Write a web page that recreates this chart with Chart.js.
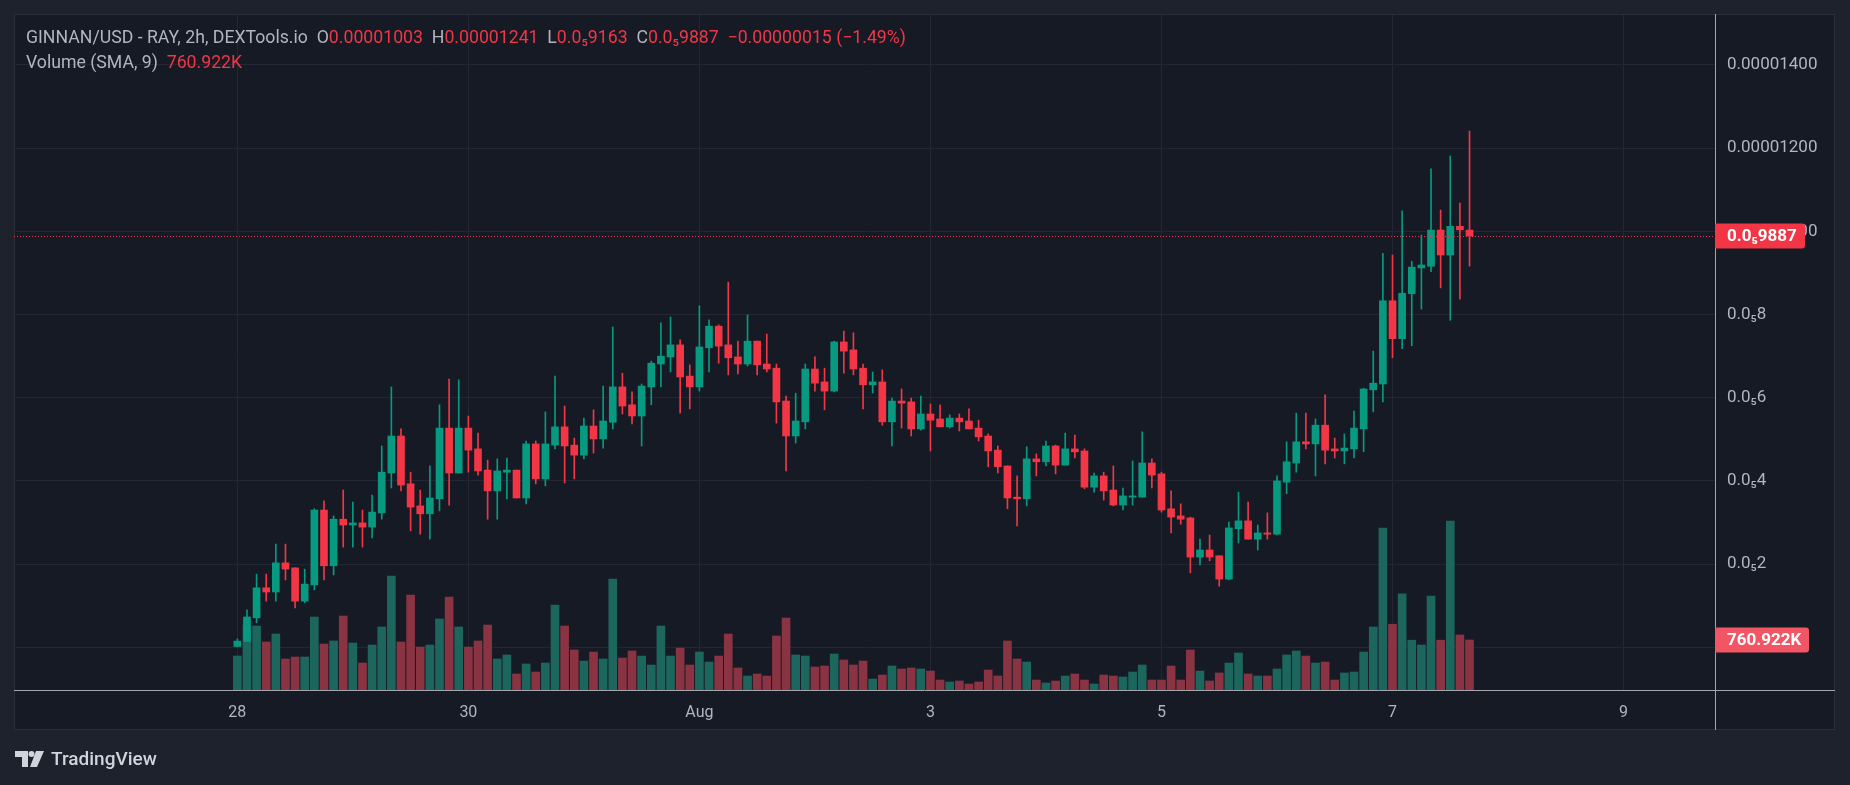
<!DOCTYPE html>
<html>
<head>
<meta charset="utf-8">
<script src="https://cdn.jsdelivr.net/npm/chart.js@4.4.1/dist/chart.umd.min.js"></script>
<style>
    html, body { margin: 0; padding: 0; background: #1e222d; overflow: hidden; }
    #wrap { position: relative; width: 1850px; height: 785px; }
    canvas { display: block; }
    .legend { position: absolute; left: 26px; font: 17.7px Roboto, sans-serif; color: #b2b5be; white-space: pre; }
    .legend .v { color: #f23645; }
    #brand { position: absolute; left: 15px; top: 747px; display: flex; align-items: center; color: #d1d4dc; font: 500 19px Roboto, sans-serif; }
    #brand svg { margin-right: 7px; }
</style>
</head>
<body>
<div id="wrap">
    <canvas id="graph" width="1850" height="785"></canvas>
    <div class="legend" id="line1" style="top:27px"></div>
    <div class="legend" id="line2" style="top:52px"></div>
    <div id="brand">
        <svg width="29" height="16" viewBox="0 0 29 16">
            <path d="M0 0h13v16h-6v-10h-7z" fill="#d1d4dc"/>
            <circle cx="16.5" cy="3" r="3" fill="#d1d4dc"/>
            <path d="M21 0h8l-7 16h-7z" fill="#d1d4dc"/>
        </svg>
        <span>TradingView</span>
    </div>
</div>
<script>
// GINNAN/USD 2h candles, prices in millionths of a dollar (1 = 0.000001)
const opens = [
    0.02, 0.14, 0.71, 1.43, 1.33, 2.03, 1.91, 1.11, 1.50, 3.30,
    1.96, 3.08, 2.94, 2.99, 2.89, 3.23, 4.19, 5.08, 3.93, 3.40,
    3.21, 3.57, 5.27, 4.19, 5.27, 4.77, 4.26, 3.76, 4.21, 4.26,
    3.59, 4.89, 4.05, 4.86, 5.30, 4.86, 4.62, 5.32, 5.01, 5.41,
    6.26, 5.83, 5.56, 6.26, 6.81, 6.98, 7.27, 6.52, 6.26, 7.20,
    7.72, 7.27, 6.98, 6.81, 7.36, 6.81, 6.71, 5.92, 5.08, 5.42,
    6.69, 6.38, 6.16, 7.34, 7.15, 6.71, 6.31, 6.38, 5.42, 5.92,
    5.90, 5.25, 5.61, 5.49, 5.30, 5.51, 5.44, 5.27, 5.08, 4.74,
    4.36, 3.61, 3.57, 4.53, 4.46, 4.84, 4.38, 4.77, 4.72, 3.85,
    4.12, 3.78, 3.42, 3.61, 3.61, 4.43, 4.17, 3.33, 3.16, 3.11,
    2.17, 2.34, 2.20, 1.64, 2.85, 3.04, 2.60, 2.75, 2.72, 3.97,
    4.43, 4.94, 4.89, 5.34, 4.77, 4.72, 4.77, 5.25, 6.19, 6.33,
    8.33, 7.42, 8.50, 9.12, 9.16, 10.03, 9.43, 10.12, 10.03
];
const highs = [
    0.20, 0.90, 1.76, 1.76, 2.48, 2.48, 1.91, 1.88, 3.33, 3.52,
    3.16, 3.78, 3.49, 3.30, 3.66, 4.84, 6.26, 5.25, 4.21, 3.78,
    4.36, 5.83, 6.45, 6.43, 5.56, 5.15, 4.50, 4.53, 4.55, 4.26,
    4.96, 4.96, 5.66, 6.52, 5.80, 5.03, 5.51, 5.71, 6.28, 7.70,
    6.59, 6.14, 6.33, 6.88, 7.80, 7.94, 7.39, 6.79, 8.21, 7.87,
    7.75, 8.78, 7.36, 7.99, 7.36, 7.53, 6.81, 6.04, 6.11, 6.81,
    6.98, 6.71, 7.36, 7.60, 7.56, 6.81, 6.62, 6.67, 5.99, 6.21,
    5.99, 6.04, 5.85, 5.83, 5.59, 5.61, 5.73, 5.46, 5.13, 4.84,
    4.36, 4.12, 4.82, 4.65, 4.96, 4.86, 5.15, 5.10, 4.77, 4.19,
    4.21, 4.36, 3.83, 4.48, 5.18, 4.53, 4.21, 3.76, 3.45, 3.13,
    2.60, 2.70, 2.20, 3.01, 3.73, 3.49, 2.94, 3.23, 4.12, 4.94,
    5.63, 5.63, 5.49, 6.07, 5.03, 5.13, 5.68, 6.23, 7.12, 9.47,
    9.43, 10.49, 9.28, 9.91, 11.50, 10.51, 11.81, 10.68, 12.41
];
const lows = [
    0.00, 0.14, 0.59, 1.11, 1.11, 1.62, 0.95, 1.07, 1.38, 1.62,
    1.74, 2.41, 2.41, 2.41, 2.63, 3.08, 3.83, 3.76, 2.80, 2.72,
    2.60, 3.28, 3.42, 4.19, 4.21, 4.14, 3.08, 3.08, 3.57, 3.59,
    3.45, 3.93, 3.88, 4.77, 3.95, 4.05, 4.53, 4.67, 4.79, 5.25,
    5.61, 5.37, 4.84, 5.83, 6.26, 6.62, 5.63, 5.73, 6.16, 6.62,
    6.83, 6.55, 6.57, 6.76, 6.55, 6.62, 5.39, 4.24, 4.91, 5.25,
    6.16, 5.71, 6.14, 6.59, 6.55, 5.73, 6.11, 5.34, 4.84, 5.27,
    5.08, 5.22, 4.72, 5.30, 5.27, 5.20, 5.25, 4.96, 4.34, 4.19,
    3.33, 2.92, 3.40, 4.12, 4.36, 4.17, 4.38, 4.55, 3.81, 3.73,
    3.54, 3.40, 3.30, 3.42, 3.61, 3.83, 3.25, 2.75, 2.96, 1.79,
    1.98, 2.08, 1.47, 1.62, 2.51, 2.60, 2.34, 2.60, 2.70, 3.69,
    4.21, 4.77, 4.12, 4.41, 4.55, 4.41, 4.55, 4.70, 5.66, 5.90,
    6.96, 7.18, 7.25, 8.13, 9.03, 8.64, 7.86, 8.37, 9.163
];
const closes = [
    0.15, 0.73, 1.43, 1.33, 2.03, 1.88, 1.11, 1.52, 3.30, 1.96,
    3.08, 2.94, 2.99, 2.89, 3.25, 4.21, 5.08, 3.90, 3.37, 3.21,
    3.59, 5.27, 4.19, 5.27, 4.74, 4.24, 3.76, 4.24, 4.26, 3.59,
    4.89, 4.05, 4.89, 5.30, 4.84, 4.62, 5.32, 5.01, 5.44, 6.26,
    5.80, 5.56, 6.28, 6.83, 7.00, 7.27, 6.50, 6.26, 7.22, 7.72,
    7.24, 6.96, 6.81, 7.36, 6.79, 6.69, 5.90, 5.08, 5.44, 6.69,
    6.35, 6.16, 7.34, 7.12, 6.69, 6.31, 6.38, 5.42, 5.92, 5.87,
    5.25, 5.61, 5.46, 5.30, 5.51, 5.42, 5.25, 5.06, 4.72, 4.34,
    3.59, 3.57, 4.53, 4.46, 4.84, 4.38, 4.77, 4.70, 3.85, 4.12,
    3.76, 3.42, 3.64, 3.64, 4.43, 4.14, 3.30, 3.13, 3.08, 2.17,
    2.34, 2.17, 1.64, 2.87, 3.04, 2.60, 2.75, 2.72, 4.00, 4.46,
    4.94, 4.89, 5.34, 4.74, 4.72, 4.79, 5.27, 6.21, 6.35, 8.33,
    7.42, 8.51, 9.14, 9.19, 10.03, 9.43, 10.12, 10.037, 9.887
];
// volume per candle, thousands
const volumes = [
    517, 989, 974, 731, 852, 472, 502, 502, 1111, 700,
    746, 1126, 715, 411, 685, 959, 1735, 731, 1446, 654,
    685, 1081, 1415, 959, 654, 746, 989, 472, 533, 244,
    396, 274, 411, 1294, 974, 609, 441, 578, 472, 1689,
    487, 594, 517, 380, 974, 517, 639, 380, 578, 426,
    517, 852, 335, 213, 244, 213, 822, 1096, 533, 517,
    350, 365, 548, 457, 380, 441, 167, 228, 365, 320,
    335, 320, 289, 152, 122, 137, 91, 122, 304, 213,
    746, 472, 426, 152, 107, 137, 213, 244, 152, 91,
    228, 213, 198, 274, 380, 152, 152, 365, 152, 609,
    289, 137, 259, 411, 563, 244, 213, 213, 320, 533,
    594, 517, 411, 426, 152, 259, 274, 578, 959, 2466,
    1001, 1462, 758, 685, 1428, 758, 2571, 838, 760.922
];
// time axis: candle index (2h each, 0 = Jul 28 00:00) and its label
const dayTicks = [0, 24, 48, 72, 96, 120, 144];
const dayLabels = ['28', '30', 'Aug', '3', '5', '7', '9'];
const priceTicks = [0, 2, 4, 6, 8, 10, 12, 14];

const UP = '#089981', DOWN = '#f23645';
const VOL_UP = '#1d665e', VOL_DOWN = '#893343';

function fmtPrice(v) {
    if (v === 0) return '0.0000';
    if (v >= 10) return (v / 1e6).toFixed(8);
    return '0.0\u2085' + String(v).replace('.', '');
}
function fmtVol(v) {
    return v.toFixed(3) + 'K';
}

const n = closes.length;
const isUp = closes.map((c, i) => c >= opens[i]);
const lastClose = closes[n - 1];
const lastVol = volumes[n - 1];

// legend texts
const diff = lastClose - closes[n - 2];
const pct = diff / closes[n - 2] * 100;
const sign = diff < 0 ? '\u2212' : '+';
document.getElementById('line1').innerHTML =
    'GINNAN/USD - RAY, 2h, DEXTools.io  O<span class="v">' + fmtPrice(opens[n - 1]) +
    '</span>  H<span class="v">' + fmtPrice(highs[n - 1]) +
    '</span>  L<span class="v">' + fmtPrice(lows[n - 1]) +
    '</span>  C<span class="v">' + fmtPrice(lastClose) +
    '</span>  <span class="v">' + sign + (Math.abs(diff) / 1e6).toFixed(8) +
    ' (' + sign + Math.abs(pct).toFixed(2) + '%)</span>';
document.getElementById('line2').innerHTML =
    'Volume (SMA, 9)  <span class="v">' + fmtVol(lastVol) + '</span>';

// background, panel frame, price line and axis labels
const tvPlugin = {
    id: 'tvFrame',
    beforeDraw(chart) {
        const c = chart.ctx;
        c.save();
        c.fillStyle = '#1e222d';
        c.fillRect(0, 0, chart.width, chart.height);
        c.fillStyle = '#161a25';
        c.fillRect(14, 14, 1821, 716);
        c.strokeStyle = '#2a2e39';
        c.lineWidth = 1;
        c.strokeRect(14.5, 14.5, 1820, 715);
        c.restore();
    },
    afterDatasetsDraw(chart) {
        const c = chart.ctx, a = chart.chartArea;
        const y = Math.round(chart.scales.y.getPixelForValue(lastClose)) + 0.5;
        c.save();
        c.strokeStyle = DOWN;
        c.setLineDash([1, 2]);
        c.beginPath();
        c.moveTo(a.left, y);
        c.lineTo(a.right, y);
        c.stroke();
        c.restore();
    },
    afterDraw(chart) {
        const c = chart.ctx, a = chart.chartArea;
        c.save();
        c.strokeStyle = '#a3a6af';
        c.lineWidth = 1;
        c.beginPath();
        c.moveTo(a.right + 0.5, 14);
        c.lineTo(a.right + 0.5, 730);
        c.moveTo(14, a.bottom + 0.5);
        c.lineTo(1835, a.bottom + 0.5);
        c.stroke();

        function tag(yc, w, color, text) {
            const h = 25;
            c.fillStyle = color;
            c.beginPath();
            c.roundRect(a.right, yc - h / 2, w, h, [0, 3, 3, 0]);
            c.fill();
            c.fillStyle = '#ffffff';
            c.font = 'bold 17px Roboto';
            c.textBaseline = 'middle';
            c.textAlign = 'left';
            c.fillText(text, a.right + 12, yc + 1);
        }
        tag(chart.scales.y.getPixelForValue(lastClose), 90, DOWN, fmtPrice(lastClose));
        tag(chart.scales.yv.getPixelForValue(lastVol), 94, '#f25563', fmtVol(lastVol));
        c.restore();
    }
};

Chart.defaults.font.family = 'Roboto';
Chart.defaults.color = '#b2b5be';

const ctx = document.getElementById('graph').getContext('2d');
const myChart = new Chart(ctx, {
    type: 'bar',
    data: {
        datasets: [
            {
                label: 'Body',
                data: opens.map((o, i) => ({ x: i, y: [o, closes[i]] })),
                backgroundColor: isUp.map(u => u ? UP : DOWN),
                barThickness: 7,
                minBarLength: 1,
                grouped: false,
                yAxisID: 'y',
                order: 1
            },
            {
                label: 'Wick',
                data: lows.map((l, i) => ({ x: i, y: [l, highs[i]] })),
                backgroundColor: isUp.map(u => u ? UP : DOWN),
                barThickness: 1,
                grouped: false,
                yAxisID: 'y',
                order: 2
            },
            {
                label: 'Volume',
                data: volumes.map((v, i) => ({ x: i, y: v })),
                backgroundColor: isUp.map(u => u ? VOL_UP : VOL_DOWN),
                barThickness: 8,
                grouped: false,
                yAxisID: 'yv',
                order: 3
            }
        ]
    },
    options: {
        responsive: false,
        animation: false,
        devicePixelRatio: 1,
        layout: { padding: { left: 14, top: 15, right: 15, bottom: 55 } },
        plugins: {
            legend: { display: false },
            tooltip: { enabled: false }
        },
        scales: {
            x: {
                type: 'linear',
                min: -23.2,
                max: 153.5,
                offset: false,
                afterBuildTicks: s => { s.ticks = dayTicks.map(v => ({ value: v })); },
                afterFit: s => { s.height = 40; s.paddingLeft = 0; s.paddingRight = 0; },
                ticks: {
                    autoSkip: false,
                    maxRotation: 0,
                    padding: 13,
                    font: { size: 16 },
                    callback: v => dayLabels[dayTicks.indexOf(v)]
                },
                grid: { color: '#242733', drawTicks: false, offset: false },
                border: { display: false }
            },
            y: {
                position: 'right',
                min: -1.026,
                max: 15.2,
                afterBuildTicks: s => { s.ticks = priceTicks.map(v => ({ value: v })); },
                afterFit: s => { s.width = 120; s.paddingTop = 0; s.paddingBottom = 0; },
                ticks: {
                    padding: 12,
                    font: { size: 17 },
                    callback: v => fmtPrice(v)
                },
                grid: { color: '#242733', drawTicks: false },
                border: { display: false }
            },
            yv: {
                display: false,
                min: 0,
                max: 10274
            }
        }
    },
    plugins: [tvPlugin]
});
</script>
</body>
</html>
